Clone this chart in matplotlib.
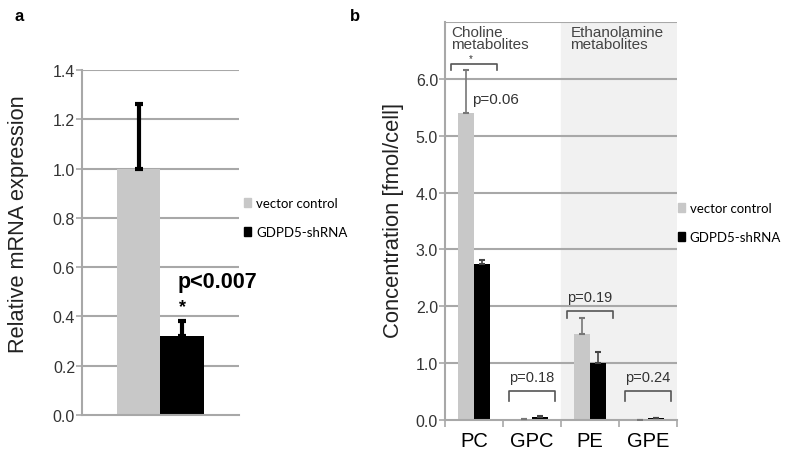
import numpy as np
import matplotlib
matplotlib.use("Agg")
import matplotlib.pyplot as plt
from matplotlib.patches import Patch

plt.rcParams['font.family'] = ['Liberation Sans', 'DejaVu Sans']

# ---- donnees panneau a ----
grp_a = ["vector control", "GDPD5-shRNA"]
mrna = [1.0, 0.32]
mrna_err = [0.26, 0.06]

# ---- donnees panneau b ----
cats = ["PC", "GPC", "PE", "GPE"]
ctrl = [5.4, 0.01, 1.52, 0.005]
ctrl_err = [0.75, 0.0, 0.27, 0.0]
shrna = [2.75, 0.05, 1.01, 0.03]
shrna_err = [0.07, 0.02, 0.19, 0.01]
pvals = ["*", "p=0.18", "p=0.19", "p=0.24"]
brk_top = [6.27, 0.51, 1.92, 0.51]
brk_drop = [0.11, 0.18, 0.12, 0.18]

gris = "#c8c8c8"
grille = "#a8a8a8"
w = 0.28

fig = plt.figure(figsize=(7.9, 4.6), dpi=100)

def legende(axe, x0, y0):
    axe.legend(handles=[Patch(color=gris, label=grp_a[0]), Patch(color="black", label=grp_a[1])],
               loc="upper left", bbox_to_anchor=(x0, y0), bbox_transform=fig.transFigure,
               frameon=False, borderpad=0, borderaxespad=0,
               handlelength=0.5, handleheight=0.7, handletextpad=0.4, labelspacing=1.25,
               prop={"family": "Lato", "size": 9.5})

# ================= panneau a =================
ax = fig.add_axes([0.1038, 0.0957, 0.1987, 0.75])
ax.set_xlim(-0.5, 0.5)
ax.set_ylim(0, 1.4)
ax.set_yticks(np.arange(0, 1.41, 0.2))
ax.set_yticklabels(["%.1f" % v for v in np.arange(0, 1.41, 0.2)], fontsize=11.5, color="#333333")
ax.set_xticks([])
for y in np.arange(0.2, 1.41, 0.2):
    ax.axhline(y, color=grille, lw=1.5, zorder=0)
for s in ["top", "right"]:
    ax.spines[s].set_visible(False)
ax.spines["left"].set_color(grille)
ax.spines["bottom"].set_color(grille)
ax.spines["left"].set_linewidth(1.5)
ax.spines["bottom"].set_linewidth(1.5)
ax.tick_params(axis="y", color=grille, length=4, width=1.2, pad=1)

ax.bar(-w / 2, mrna[0], w, color=gris, zorder=2)
ax.bar(w / 2, mrna[1], w, color="black", zorder=2)
ax.errorbar([-w / 2, w / 2], mrna, yerr=[[0, 0], mrna_err], fmt="none",
            ecolor="black", elinewidth=3, capsize=3, capthick=3, zorder=3)
ax.text(w / 2, 0.44, "*", ha="center", va="center", fontsize=13, fontweight="bold")
ax.text(0.36, 0.54, "p<0.007", ha="center", va="center", fontsize=15.5,
        fontweight="bold", clip_on=False)
ax.set_ylabel("Relative mRNA expression", fontsize=15.7, color="#222222")
ax.yaxis.set_label_coords(-0.34, 0.557)
legende(ax, 0.3089, 0.5687)
fig.text(0.018, 0.965, "a", fontsize=12, fontweight="bold", va="center")

# ================= panneau b =================
bx = fig.add_axes([0.5633, 0.0848, 0.2937, 0.8652])
x = np.arange(len(cats))
bx.set_xlim(-0.5, len(cats) - 0.5)
bx.set_ylim(0, 7)
bx.axvspan(1.5, 3.5, color="#f1f1f1", zorder=0)
for y in range(1, 8):
    bx.axhline(y, color=grille, lw=1.5, zorder=1)
bx.set_yticks(range(0, 7))
bx.set_yticklabels(["%.1f" % v for v in range(0, 7)], fontsize=11.5, color="#333333")
bx.set_xticks(np.arange(-0.5, len(cats)), minor=False)
bx.set_xticklabels([])
bx.set_xticks(x, minor=True)
bx.set_xticklabels(cats, minor=True, fontsize=14.5)
bx.tick_params(axis="x", which="minor", length=0, pad=8)
bx.tick_params(axis="x", which="major", color=grille, length=5, width=1.2)
bx.tick_params(axis="y", color=grille, length=4, width=1.2, pad=1)
for s in ["top", "right"]:
    bx.spines[s].set_visible(False)
for s in ["left", "bottom"]:
    bx.spines[s].set_color(grille)
    bx.spines[s].set_linewidth(1.5)

bx.bar(x - w / 2, ctrl, w, color=gris, zorder=2)
bx.bar(x + w / 2, shrna, w, color="black", zorder=2)
bx.errorbar(x - w / 2, ctrl, yerr=[np.zeros(4), ctrl_err], fmt="none",
            ecolor="#777777", elinewidth=1.2, capsize=2.5, capthick=1.5, zorder=3)
bx.errorbar(x + w / 2, shrna, yerr=[np.zeros(4), shrna_err], fmt="none",
            ecolor="#444444", elinewidth=1.2, capsize=2.5, capthick=1.5, zorder=3)

for i in range(len(cats)):
    t = brk_top[i]
    d = brk_drop[i]
    bx.plot([i - 0.39, i - 0.39, i + 0.39, i + 0.39], [t - d, t, t, t - d],
            color="#555555", lw=1.2, zorder=4)
    if pvals[i] == "*":
        bx.text(i - 0.06, t + 0.1, "*", ha="center", va="center", fontsize=7, color="#333333")
    else:
        bx.text(i, t + 0.25, pvals[i], ha="center", va="center", fontsize=10.5, color="#333333")
bx.text(-0.04, 5.65, "p=0.06", ha="left", va="center", fontsize=11, color="#333333")

bx.text(-0.4, 6.95, "Choline\nmetabolites", ha="left", va="top", fontsize=11,
        color="#444444", linespacing=0.85)
bx.text(1.66, 6.95, "Ethanolamine\nmetabolites", ha="left", va="top", fontsize=11,
        color="#444444", linespacing=0.85)
bx.set_ylabel("Concentration [fmol/cell]", fontsize=15.8, color="#222222")
bx.yaxis.set_label_coords(-0.177, 0.505)
legende(bx, 0.8582, 0.5578)
fig.text(0.443, 0.965, "b", fontsize=12, fontweight="bold", va="center")

fig.savefig("out.png", dpi=100)
